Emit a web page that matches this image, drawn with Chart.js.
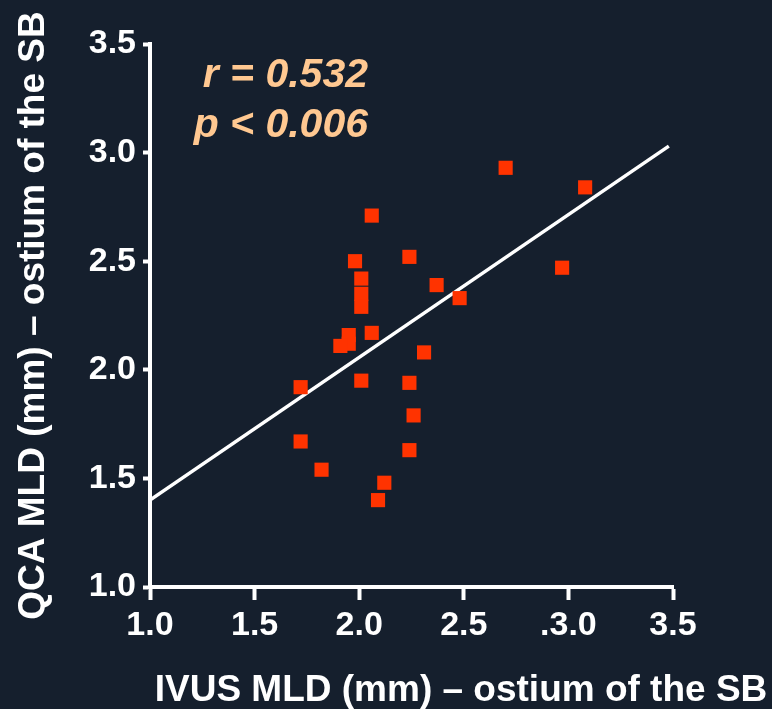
<!DOCTYPE html>
<html>
<head>
<meta charset="utf-8">
<script src="https://cdn.jsdelivr.net/npm/chart.js@4.4.1/dist/chart.umd.min.js"></script>
<style>
  html, body { margin: 0; padding: 0; background: #151f2d; }
  #wrap { width: 772px; height: 709px; }
</style>
</head>
<body>
<div id="wrap"><canvas id="corrChart" width="772" height="709"></canvas></div>
<script>
// IVUS vs QCA minimal lumen diameter, ostium of the side branch
const ivusMld = [2.70, 3.08, 2.06, 2.24, 1.98, 2.97, 2.01, 2.37, 2.01, 2.01, 2.48,
  1.95, 1.95, 1.91, 2.06, 2.31, 1.72, 2.01, 2.24, 2.26, 1.72, 2.24, 1.82, 2.12, 2.09];
const qcaMld = [2.93, 2.84, 2.71, 2.52, 2.50, 2.47, 2.42, 2.39, 2.35, 2.29, 2.33,
  2.16, 2.12, 2.11, 2.17, 2.08, 1.92, 1.95, 1.94, 1.79, 1.67, 1.63, 1.54, 1.48, 1.40];

// regression line end points
const fitX = [1.0, 3.48];
const fitY = [1.40, 3.03];

const xTicks = [1.0, 1.5, 2.0, 2.5, 3.0, 3.5];
const xTickLabels = ['1.0', '1.5', '2.0', '2.5', '.3.0', '3.5'];
const yTickLabels = ['1.0', '1.5', '2.0', '2.5', '3.0', '3.5'];

const statLines = ['r = 0.532', 'p < 0.006'];
const xTitle = 'IVUS MLD (mm) \u2013 ostium of the SB';
const yTitle = 'QCA MLD (mm) \u2013 ostium of the SB';

const fontFamily = '"Liberation Sans", Arial, sans-serif';

const overlayText = {
  id: 'overlayText',
  afterDraw(chart) {
    const ctx = chart.ctx;
    ctx.save();
    ctx.fillStyle = '#ffc891';
    ctx.font = 'italic bold 41px ' + fontFamily;
    ctx.textAlign = 'right';
    ctx.textBaseline = 'alphabetic';
    ctx.fillText(statLines[0], 368, 87);
    ctx.fillText(statLines[1], 368, 137);
    // x axis title, sits right of the plot centre
    ctx.fillStyle = '#ffffff';
    ctx.font = 'bold 37px ' + fontFamily;
    ctx.textAlign = 'center';
    ctx.fillText(xTitle, 461, 701);
    ctx.restore();
  }
};

new Chart(document.getElementById('corrChart'), {
  type: 'scatter',
  data: {
    datasets: [
      {
        label: 'Patients',
        data: ivusMld.map((v, i) => ({ x: v, y: qcaMld[i] })),
        pointStyle: 'rect',
        pointRadius: 10,
        pointBackgroundColor: '#ff3300',
        pointBorderColor: '#ff3300',
        pointBorderWidth: 0,
        order: 1,
      },
      {
        type: 'line',
        label: 'Fit',
        data: fitX.map((v, i) => ({ x: v, y: fitY[i] })),
        borderColor: '#ffffff',
        borderWidth: 3.5,
        pointRadius: 0,
        fill: false,
        order: 2,
      }
    ]
  },
  options: {
    responsive: false,
    animation: false,
    layout: {
      padding: { left: 0, right: 99, top: 44, bottom: 0 }
    },
    plugins: {
      legend: { display: false },
      tooltip: { enabled: false },
    },
    scales: {
      x: {
        type: 'linear',
        min: 1.0,
        max: 3.5,
        afterFit: (scale) => { scale.height = 122; },
        afterBuildTicks: (scale) => { scale.ticks = xTicks.map(v => ({ value: v })); },
        border: { display: true, color: '#ffffff', width: 4 },
        grid: {
          drawOnChartArea: false,
          tickLength: 13,
          tickColor: '#ffffff',
          tickWidth: 4,
        },
        ticks: {
          color: '#ffffff',
          padding: 5,
          maxRotation: 0,
          font: { size: 34, weight: 'bold', family: fontFamily },
          callback: function (value, index) {
            return xTickLabels[index];
          }
        }
      },
      y: {
        type: 'linear',
        min: 1.0,
        max: 3.5,
        afterFit: (scale) => { scale.width = 150; },
        border: { display: true, color: '#ffffff', width: 4 },
        grid: {
          drawOnChartArea: false,
          tickLength: 7,
          tickColor: '#ffffff',
          tickWidth: 4,
        },
        ticks: {
          stepSize: 0.5,
          color: '#ffffff',
          padding: 7,
          font: { size: 34, weight: 'bold', family: fontFamily },
          callback: function (value, index) {
            return yTickLabels[index];
          }
        },
        title: {
          display: true,
          text: yTitle,
          color: '#ffffff',
          padding: { top: 12, bottom: 0 },
          font: { size: 37, weight: 'bold', family: fontFamily },
        }
      }
    }
  },
  plugins: [overlayText]
});
</script>
</body>
</html>
